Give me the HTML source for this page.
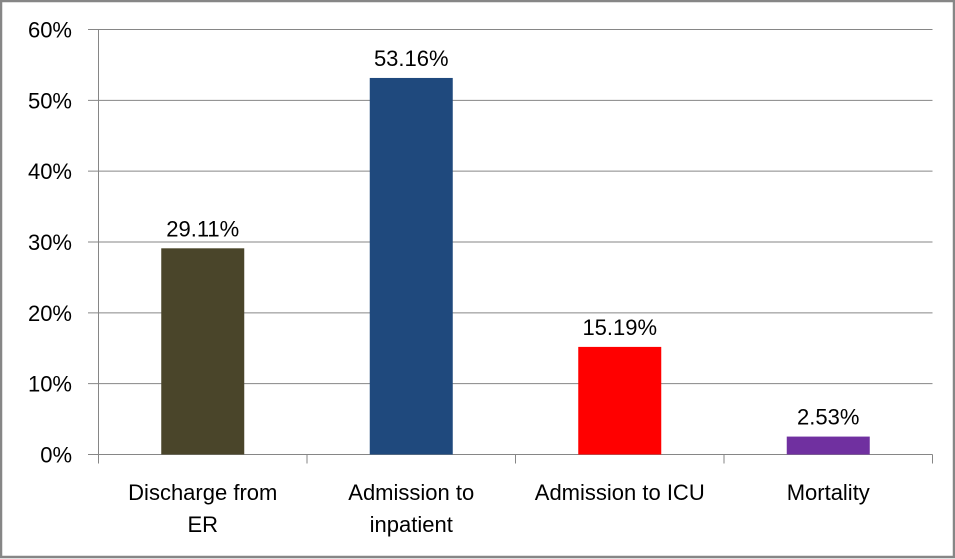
<!DOCTYPE html>
<html><head><meta charset="utf-8"><style>
html,body{margin:0;padding:0;background:#fff}
svg{display:block}
text{font-family:"Liberation Sans",sans-serif;fill:#000}
</style></head><body>
<svg id="chart" width="955" height="559" xmlns="http://www.w3.org/2000/svg">
<rect x="1" y="1" width="953" height="556" fill="#fff" stroke="#868686" stroke-width="2.5"/>
<g id="grid"></g><g id="bars"></g><g id="labels"></g>
</svg>
<script>
const categories=[["Discharge from","ER"],["Admission to","inpatient"],["Admission to ICU"],["Mortality"]];
const values=[29.11,53.16,15.19,2.53];
const valueLabels=["29.11%","53.16%","15.19%","2.53%"];
const colors=["#4a452a","#1f497d","#ff0000","#7030a0"];
const ticks=[0,10,20,30,40,50,60];
const tickLabels=["0%","10%","20%","30%","40%","50%","60%"];
const NS="http://www.w3.org/2000/svg";
const L=98.5,R=932.5,T=29.5,B=454.5,yMax=60;
const y=v=>B-(v/yMax)*(B-T);
const bw=(R-L)/categories.length;
const xc=i=>L+bw*(i+0.5);
function mk(tag,attrs,parent,txt){const e=document.createElementNS(NS,tag);for(const k in attrs)e.setAttribute(k,attrs[k]);if(txt!==undefined)e.textContent=txt;parent.appendChild(e);return e;}
const grid=document.getElementById('grid'),bars=document.getElementById('bars'),labels=document.getElementById('labels');
ticks.forEach((t,i)=>{
 const g=mk('line',{x1:88,x2:R,y1:y(t),y2:y(t),stroke:'#868686','stroke-width':1},grid);
 
 
 const tl=mk('text',{x:72,y:y(t)+8,'text-anchor':'end','font-size':22},labels,tickLabels[i]);
 
 
});
const ax=mk('line',{x1:L,x2:L,y1:T,y2:B,stroke:'#868686','stroke-width':1},grid);


for(let i=0;i<=categories.length;i++){
 const tk=mk('line',{x1:L+bw*i,x2:L+bw*i,y1:B,y2:B+9,stroke:'#868686','stroke-width':1},grid);
 
 
}
const barW=83;
values.forEach((v,i)=>{
 const r=mk('rect',{x:xc(i)-barW/2,y:y(v),width:barW,height:B-y(v),fill:colors[i]},bars);
 
 
 const vl=mk('text',{x:xc(i),y:y(v)-12,'text-anchor':'middle','font-size':22},labels,valueLabels[i]);
 
 
 categories[i].forEach((line,j)=>{
  const cl=mk('text',{x:xc(i),y:500+j*32,'text-anchor':'middle','font-size':22},labels,line);
  
  
 });
});
</script>
</body></html>
